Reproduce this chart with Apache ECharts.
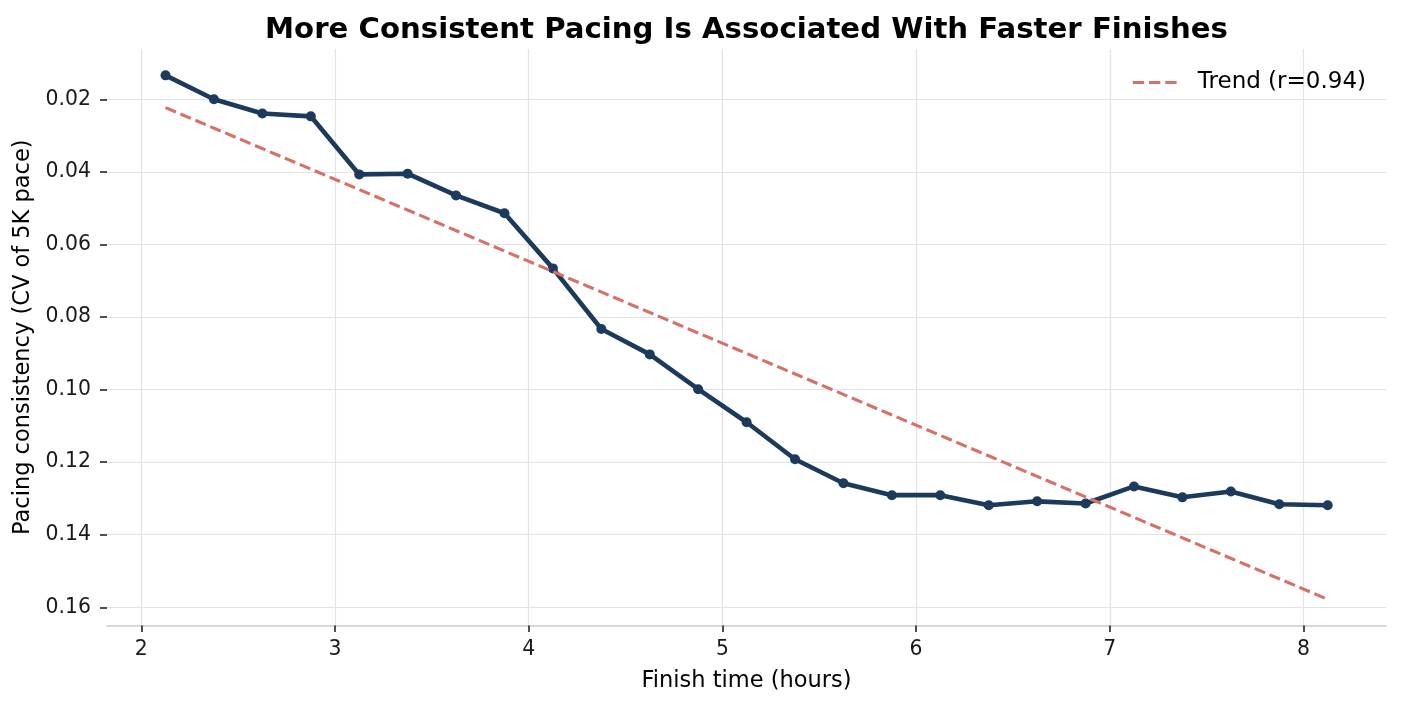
<!DOCTYPE html>
<html><head><meta charset="utf-8">
<script src="https://cdn.jsdelivr.net/npm/echarts@6/dist/echarts.min.js"></script>
<style>html,body{margin:0;padding:0;background:#fff}#c{width:1401px;height:707px}</style>
</head><body><div id="c"></div><script>
const finishHours = [2.125, 2.375, 2.625, 2.875, 3.125, 3.375, 3.625, 3.875, 4.125, 4.375, 4.625, 4.875, 5.125, 5.375, 5.625, 5.875, 6.125, 6.375, 6.625, 6.875, 7.125, 7.375, 7.625, 7.875, 8.125];
const pacingCV = [0.0134, 0.0200, 0.0239, 0.0247, 0.0407, 0.0405, 0.0465, 0.0514, 0.0666, 0.0833, 0.0903, 0.0999, 0.1090, 0.1192, 0.1258, 0.1291, 0.1291, 0.1319, 0.1308, 0.1314, 0.1267, 0.1297, 0.1281, 0.1316, 0.1319];
const trendX = [2.125, 8.125];
const trendY = [0.0223, 0.1578];
const xTicks = [2, 3, 4, 5, 6, 7, 8];
const yTicks = [0.02, 0.04, 0.06, 0.08, 0.10, 0.12, 0.14, 0.16];
const titleText = 'More Consistent Pacing Is Associated With Faster Finishes';
const xName = 'Finish time (hours)';
const yName = 'Pacing consistency (CV of 5K pace)';
const trendName = 'Trend (r=0.94)';

const FONT = 'DejaVu Sans';
const GRID = {left: 107, right: 15, top: 49, bottom: 81.5};
const W = 1401;
const chart = echarts.init(document.getElementById('c'), null, {renderer: 'canvas'});
chart.setOption({
  animation: false,
  backgroundColor: '#ffffff',
  graphic: [{
    type: 'text', x: GRID.left + (W - GRID.left - GRID.right) / 2, y: 16,
    style: {text: titleText, fontFamily: FONT, fontSize: 29.2, fontWeight: 'bold', fill: '#000',
      align: 'center', verticalAlign: 'top'}
  }],
  legend: {
    right: 35, top: 71, padding: 0, itemWidth: 46, itemHeight: 14,
    data: [trendName],
    itemStyle: {opacity: 0},
    lineStyle: {width: 3.1},
    textStyle: {fontFamily: FONT, fontSize: 23, color: '#000', padding: [0, 0, 0, 14]}
  },
  grid: {left: GRID.left, right: GRID.right, top: GRID.top, bottom: GRID.bottom, containLabel: false, outerBoundsMode: 'none'},
  xAxis: {
    type: 'value', min: 1.8229, max: 8.426,
    name: xName, nameLocation: 'middle', nameGap: 44,
    nameTextStyle: {fontFamily: FONT, fontSize: 22.5, color: '#000'},
    axisLine: {show: true, lineStyle: {color: '#cccccc', width: 1.6}},
    axisTick: {show: true, length: 6.5, customValues: xTicks, lineStyle: {color: '#222', width: 1.6}},
    axisLabel: {customValues: xTicks, margin: 14, fontFamily: FONT, fontSize: 20.4, color: '#1a1a1a'},
    splitLine: {show: true, lineStyle: {color: '#e3e3e3', width: 1.2}}
  },
  yAxis: {
    type: 'value', inverse: true, min: 0.00614, max: 0.16502,
    name: yName, nameLocation: 'middle', nameGap: 70,
    nameTextStyle: {fontFamily: FONT, fontSize: 22.5, color: '#000'},
    axisLine: {show: false},
    axisTick: {show: true, length: 7, customValues: yTicks, lineStyle: {color: '#222', width: 1.6}},
    axisLabel: {customValues: yTicks, margin: 16, fontFamily: FONT, fontSize: 20.4, color: '#1a1a1a',
      formatter: v => v.toFixed(2)},
    splitLine: {show: true, lineStyle: {color: '#e3e3e3', width: 1.2}}
  },
  series: [
    {
      type: 'line', name: 'Pacing CV', z: 2,
      data: finishHours.map((x, i) => [x, pacingCV[i]]),
      symbol: 'circle', symbolSize: 10, showSymbol: true,
      lineStyle: {color: '#1b3a5c', width: 4.6},
      itemStyle: {color: '#1b3a5c'}
    },
    {
      type: 'line', name: trendName, z: 3,
      data: trendX.map((x, i) => [x, trendY[i]]),
      symbol: 'none',
      lineStyle: {color: '#d77166', width: 3.1, type: [11.3, 4.9]},
      itemStyle: {color: '#d77166'}
    }
  ]
});
</script></body></html>
